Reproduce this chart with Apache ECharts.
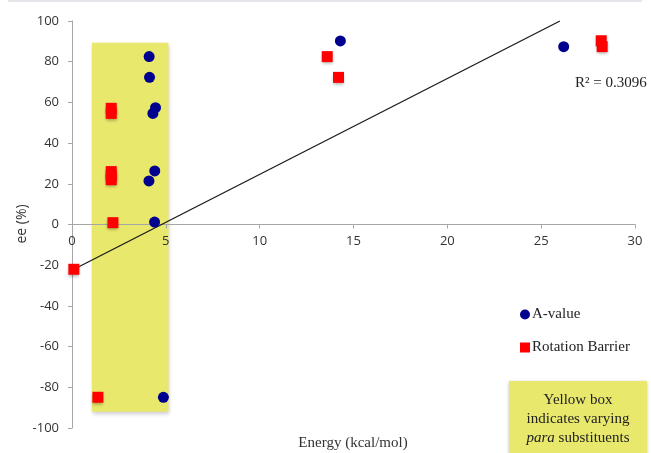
<!DOCTYPE html>
<html><head><meta charset="utf-8">
<script src="https://cdn.jsdelivr.net/npm/echarts@6/dist/echarts.min.js"></script>
<style>html,body{margin:0;padding:0;background:#fff}#c{width:651px;height:453px}</style>
</head><body><div id="c"></div>
<script>
var aValue = [[4.11,82.5],[4.13,72.3],[4.45,57.4],[4.31,54.6],[4.41,26.3],[4.1,21.4],[4.4,1.2],[4.87,-84.9],[14.3,90.2],[26.2,87.4]];
var rotationBarrier = [[2.09,57.1],[2.09,54.6],[2.09,26],[2.09,24],[2.09,22],[2.18,0.9],[0.1,-22],[1.38,-84.9],[13.6,82.5],[14.2,72.3],[28.2,90.3],[28.25,87.4]];
var trendLine = [[0,-22.5],[26,100]];
var yellowBox = [[1.06,89.3],[5.14,-92]];
var xTicks = {min:0, max:30, interval:5};
var yTicks = {min:-100, max:100, interval:20};
var gridTop = 21, gridBottom = 25, H = 453;
var plotH = H - gridTop - gridBottom;
var zeroOffset = -plotH * (0 - yTicks.min) / (yTicks.max - yTicks.min);
var chart = echarts.init(document.getElementById('c'));
chart.setOption({
  animation:false,
  grid:{left:72, right:16, top:gridTop, bottom:gridBottom, containLabel:false, outerBoundsMode:'none'},
  xAxis:{type:'value', min:xTicks.min, max:xTicks.max, interval:xTicks.interval, z:1,
    offset: zeroOffset,
    axisLine:{onZero:false, lineStyle:{color:'#a6a6a6'}},
    axisTick:{show:true, length:4, lineStyle:{color:'#a6a6a6'}},
    axisLabel:{color:'#333', fontFamily:'Open Sans', fontSize:13, margin:10},
    splitLine:{show:false}
  },
  yAxis:{type:'value', min:yTicks.min, max:yTicks.max, interval:yTicks.interval, z:1,
    axisLine:{show:true, onZero:false, lineStyle:{color:'#a6a6a6'}},
    axisTick:{show:true, length:4, lineStyle:{color:'#a6a6a6'}},
    axisLabel:{color:'#333', fontFamily:'Open Sans', fontSize:13, margin:13},
    splitLine:{show:false}
  },
  legend:{orient:'vertical', left:515, top:302, itemGap:18, itemWidth:10, itemHeight:10,
    textStyle:{fontFamily:'Liberation Serif', fontSize:15, color:'#222', padding:[0,0,0,-3]},
    data:[{name:'A-value', icon:'circle'},{name:'Rotation Barrier', icon:'rect'}]
  },
  graphic:[
    {type:'line', shape:{x1:8,y1:1,x2:642,y2:1}, style:{stroke:'#dcdce6', lineWidth:1.5}},
    {type:'rect', shape:{x:509,y:381,width:138,height:74}, style:{fill:'#e8e86c', shadowBlur:3, shadowColor:'rgba(0,0,0,0.25)', shadowOffsetY:1}},
    {type:'text', style:{x:578, y:419, text:'Yellow box\nindicates varying\n{i|para} substituents', align:'center', verticalAlign:'middle', fontFamily:'Liberation Serif', fontSize:15, lineHeight:19, fill:'#222', rich:{i:{fontStyle:'italic', fontFamily:'Liberation Serif', fontSize:15, fill:'#222'}}}},
    {type:'text', style:{x:575, y:83, text:'R² = 0.3096', verticalAlign:'middle', fontFamily:'Liberation Serif', fontSize:15, fill:'#222'}},
    {type:'text', style:{x:353, y:443, text:'Energy (kcal/mol)', align:'center', verticalAlign:'middle', fontFamily:'Liberation Serif', fontSize:15, fill:'#333'}},
    {type:'text', x:22, y:224, rotation:Math.PI/2, style:{x:0, y:0, text:'ee (%)', align:'center', verticalAlign:'middle', fontFamily:'Open Sans', fontSize:14, fill:'#333'}}
  ],
  series:[
    {type:'scatter', name:'box', data:[], z:0, silent:true,
      markArea:{silent:true, itemStyle:{color:'#e8e86c', opacity:1, shadowBlur:4, shadowColor:'rgba(0,0,0,0.2)', shadowOffsetX:1, shadowOffsetY:2}, data:[[{coord:yellowBox[0]},{coord:yellowBox[1]}]]}},
    {type:'line', name:'trend', data:trendLine, symbol:'none', z:3, lineStyle:{color:'#1a1a1a', width:1.3}},
    {type:'scatter', name:'A-value', data:aValue, symbol:'circle', symbolSize:11, z:4, itemStyle:{color:'#00008f', opacity:1}},
    {type:'scatter', name:'Rotation Barrier', data:rotationBarrier, symbol:'rect', symbolSize:11, z:4, itemStyle:{color:'#ff0000', opacity:1, shadowBlur:3, shadowColor:'rgba(0,0,0,0.3)', shadowOffsetY:2}}
  ]
});
</script></body></html>
